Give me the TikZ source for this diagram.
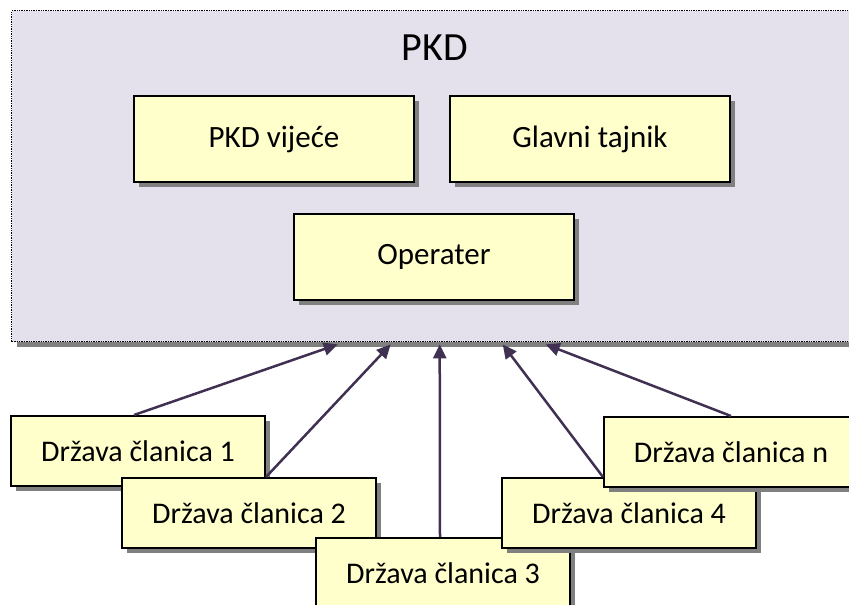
\documentclass[tikz,border=0pt]{standalone}
\usepackage{fontspec}
\setmainfont{Carlito}
\definecolor{pkdlilac}{HTML}{E4E0EC}
\definecolor{boxyellow}{HTML}{FFFFCC}
\definecolor{linkpurple}{HTML}{403152}
\definecolor{shadowgrey}{HTML}{808080}
\usetikzlibrary{positioning,arrows.meta,calc,shadows}

\begin{document}
\begin{tikzpicture}[
      x=1pt, y=-1pt,
      body/.style={rectangle, draw=black, line width=1.4pt, densely dotted,
                   fill=pkdlilac, anchor=north west, inner sep=0pt,
                   drop shadow={shadow xshift=5pt, shadow yshift=-5pt,
                                fill=shadowgrey, opacity=1}},
      organ/.style={rectangle, draw=black, line width=2pt, fill=boxyellow,
                    anchor=north west, minimum width=280pt, minimum height=86pt,
                    inner sep=0pt, font=\fontsize{31}{35}\selectfont,
                    drop shadow={shadow xshift=5pt, shadow yshift=-5pt,
                                 fill=shadowgrey, opacity=1}},
      member/.style={organ, minimum width=254pt, minimum height=70pt,
                     font=\fontsize{30}{34}\selectfont},
      heading/.style={font=\fontsize{40}{44}\selectfont, anchor=base},
      link/.style={-{Triangle[length=14pt, width=13pt]}, line width=2.5pt,
                   draw=linkpurple},
    ]
    \useasboundingbox (0,0) rectangle (849,605);
    \clip (0,0) rectangle (849,605);

    % PKD body with its organs
    \node[body, minimum width=848pt, minimum height=331pt] (pkd) at (11,10) {};
    \node[heading] (title) at (435,60) {PKD};
    \node[organ] (council) at (133,95) {PKD vijeće};
    \node[organ] (secretary) at (449,95) {Glavni tajnik};
    \node[organ] (operator) at (293,213) {Operater};

    % member states
    \node[member] (d1) at (10,415) {Država članica 1};
    \node[member] (d2) at (121,477) {Država članica 2};
    \node[member] (d3) at (315,537) {Država članica 3};
    \node[member] (d4) at (501,477) {Država članica 4};
    \node[member] (dn) at (603,416) {Država članica n};

    \draw[link] ($(d1.north)+(-4,0)$) -- ($(pkd.south)+(-98,2)$);
    \draw[link] (d1.east|-d2.north) -- ($(pkd.south)+(-45,2)$);
    \draw[link] ($(d3.north)+(-3,0)$) -- ($(pkd.south)+(4,2)$);
    \draw[link] (dn.west|-d4.north) -- ($(pkd.south)+(67,2)$);
    \draw[link] (dn.north) -- ($(pkd.south)+(110,2)$);
  \end{tikzpicture}
\end{document}
